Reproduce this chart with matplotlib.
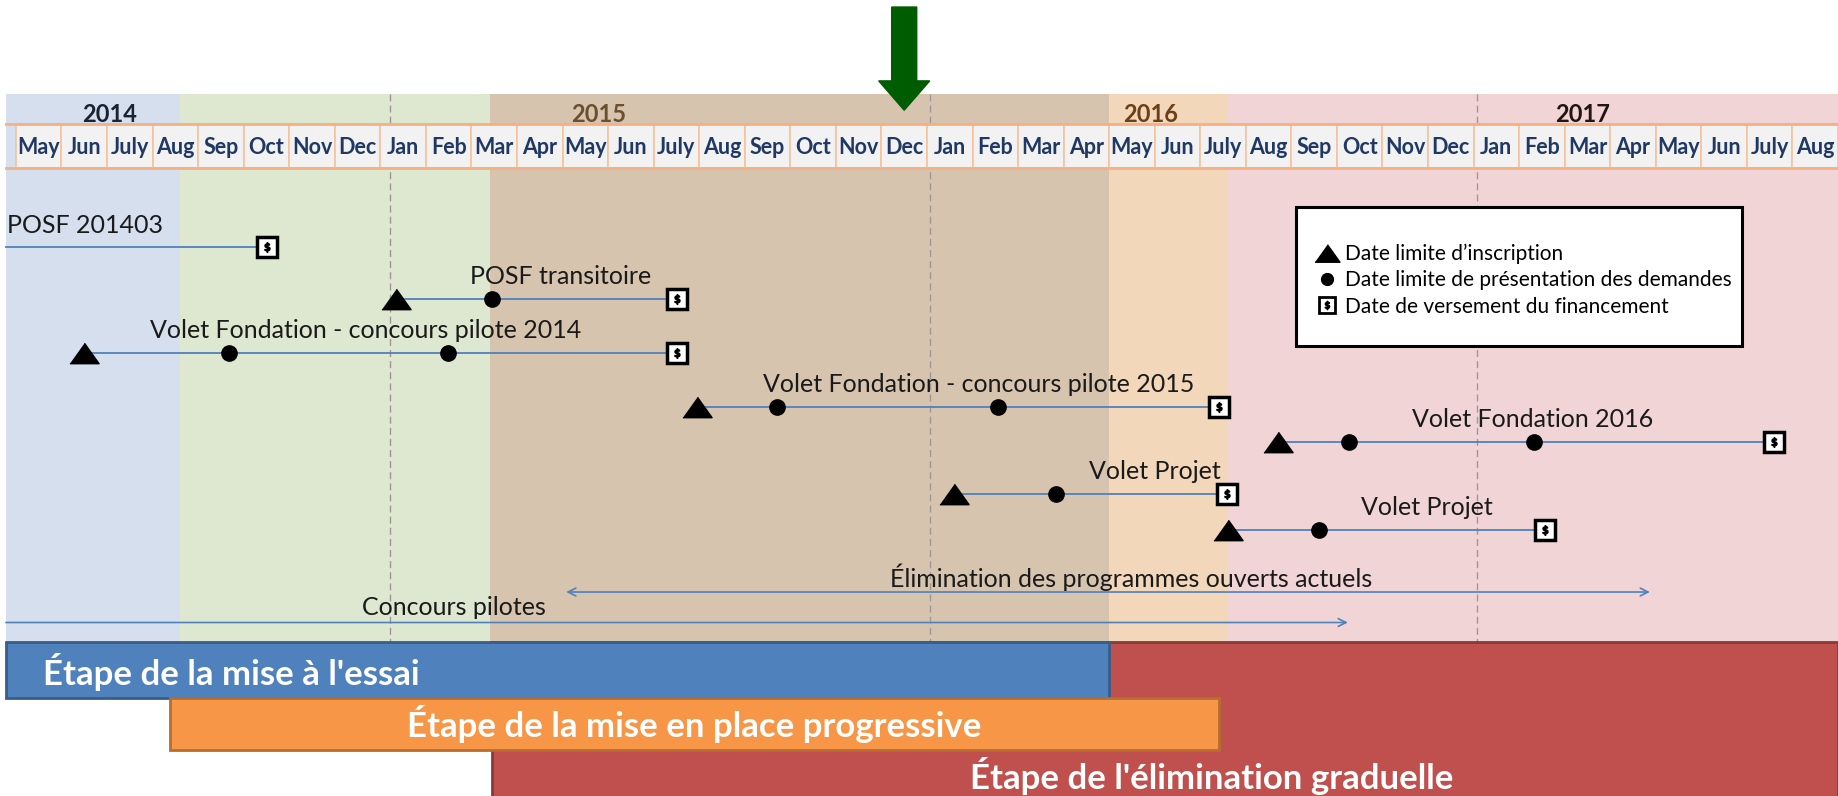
import matplotlib
matplotlib.use('Agg')
import matplotlib.pyplot as plt
from matplotlib.patches import FancyArrow, Rectangle
from matplotlib.lines import Line2D
from matplotlib.legend_handler import HandlerTuple


# x unit = months counted from the start of May 2014
months = ['May', 'Jun', 'July', 'Aug', 'Sep', 'Oct', 'Nov', 'Dec',
          'Jan', 'Feb', 'Mar', 'Apr', 'May', 'Jun', 'July', 'Aug',
          'Sep', 'Oct', 'Nov', 'Dec',
          'Jan', 'Feb', 'Mar', 'Apr', 'May', 'Jun', 'July', 'Aug',
          'Sep', 'Oct', 'Nov', 'Dec',
          'Jan', 'Feb', 'Mar', 'Apr', 'May', 'Jun', 'July', 'Aug']
years = ['2014', '2015', '2016', '2017']
year_pos = [2.05, 12.8, 24.9, 34.4]
year_colors = ['#1b2233', '#6b4f2e', '#6b3f18', '#201510']
year_lines = [8.22, 20.07, 32.07]
arrow_month = 19.5  # Dec 2015

# programs: inscription (triangle), submissions (dots), payment ($)
prog_names = ['POSF 201403', 'POSF transitoire',
              'Volet Fondation - concours pilote 2014',
              'Volet Fondation - concours pilote 2015',
              'Volet Fondation 2016', 'Volet Projet', 'Volet Projet']
prog_start = [-0.22, 8.35, 1.5, 14.96, 27.7, 20.6, 26.6]
inscription = [None, 8.35, 1.5, 14.96, 27.7, 20.6, 26.6]
submission = [[], [10.45], [4.67, 9.48], [16.7, 21.57], [29.26, 33.33],
              [22.83], [28.6]]
payment = [5.52, 14.52, 14.52, 26.41, 38.6, 26.59, 33.56]
prog_label_x = [1.52, 11.95, 7.68, 21.13, 33.3, 25.0, 30.98]

span_names = ['Élimination des programmes ouverts actuels', 'Concours pilotes']
span_start = [12.08, -0.22]
span_end = [35.87, 29.24]
span_label_x = [24.48, 9.62]
span_style = ['<->', '->']

stage_names = ["Étape de la mise à l'essai",
               'Étape de la mise en place progressive',
               "Étape de l'élimination graduelle"]
stage_start = [-0.22, 3.38, 10.45]
stage_end = [24.0, 26.4, 40.0]
stage_colors = ['#4f81bd', '#f79646', '#c0504d']
stage_edges = ['#385d8a', '#b66d31', '#8c3836']

bg_edges = [-0.22, 3.6, 10.4, 24.0, 26.6, 40.0]
bg_colors = ['#d5dfee', '#dee7d0', '#d7c4af', '#f2d7ba', '#f1d5d6']

# layout (vertical positions in picture units, top = 0)
TOP, BOTTOM = 0, 679
BG_TOP, BG_BOT = 80, 548
MONTH_TOP, MONTH_BOT = 106, 143
prog_y = [211, 255, 301, 347, 377, 421, 452]
span_y = [505, 531]
stage_rows = [(548, 595), (595, 640), (548, 700)]

body = ['Lato', 'DejaVu Sans']
line_col = '#4f81bd'
tri = [(-1, -0.7), (1, -0.7), (0, 0.7)]

fig = plt.figure(figsize=(18.38, 7.96), dpi=100)
ax = fig.add_axes([0, 0, 1, 1])
ax.set_xlim(-0.35, 40.0)
ax.set_ylim(BOTTOM, TOP)
ax.axis('off')

# background bands
for i, c in enumerate(bg_colors):
    ax.bar(bg_edges[i], BG_BOT - BG_TOP, width=bg_edges[i + 1] - bg_edges[i],
           bottom=BG_TOP, align='edge', color=c, zorder=0)

# year boundaries
for x in year_lines:
    ax.plot([x, x], [BG_TOP, BG_BOT], color='#a09696', lw=1, ls=(0, (5, 3)),
            zorder=1)

# month header
xs = list(range(len(months)))
ax.bar(xs, MONTH_BOT - MONTH_TOP, width=1, bottom=MONTH_TOP, align='edge',
       color='#f2f2f2', edgecolor='#f6c29c', lw=1.2, zorder=2)
ax.plot([bg_edges[0], 40], [MONTH_TOP, MONTH_TOP], color='#f4b183', lw=2, zorder=2)
ax.plot([bg_edges[0], 40], [MONTH_BOT, MONTH_BOT], color='#f4b183', lw=2, zorder=2)
for i, m in enumerate(months):
    ax.text(i + 0.5, (MONTH_TOP + MONTH_BOT) / 2 + 1, m, ha='center', va='center',
            family=body, fontweight='bold', fontsize=15.5, color='#1f3864',
            zorder=3)
for y, x, c in zip(years, year_pos, year_colors):
    ax.text(x, 98, y, ha='center', va='center', family=body, fontweight='bold',
            fontsize=17, color=c, zorder=3)

# green arrow
ax.add_patch(FancyArrow(arrow_month, 6, 0, 88, width=0.55, head_width=1.12,
                        head_length=25, length_includes_head=True,
                        color='#005c00', zorder=3))

# programs
for i, name in enumerate(prog_names):
    y = prog_y[i]
    ax.plot([prog_start[i], payment[i]], [y, y], color=line_col, lw=1.3, zorder=3)
    if inscription[i] is not None:
        ax.plot(inscription[i], y, ls='none', marker=tri, ms=21, color='black',
                zorder=4)
    for s in submission[i]:
        ax.plot(s, y, ls='none', marker='o', ms=11, color='black', zorder=4)
    ax.plot(payment[i], y, ls='none', marker='s', ms=14, mfc='white', mec='black',
            mew=2.5, zorder=4)
    ax.plot(payment[i], y, ls='none', marker=r'$\$$', ms=7, color='black', zorder=5)
    ax.text(prog_label_x[i], y - 19, name, ha='center', va='center',
            family=body, fontsize=18, color='#1a1a1a', zorder=5)

for i, name in enumerate(span_names):
    y = span_y[i]
    ax.annotate('', xy=(span_end[i], y), xytext=(span_start[i], y),
                arrowprops=dict(arrowstyle=span_style[i], color=line_col, lw=1.2,
                                shrinkA=0, shrinkB=0, mutation_scale=14),
                zorder=3)
    ax.text(span_label_x[i], y - 13, name, ha='center', va='center',
            family=body, fontsize=18, color='#1a1a1a', zorder=5)

# legend box
ax.add_patch(Rectangle((28.1, 177), 9.8, 118, facecolor='white',
                       edgecolor='black', lw=2.2, zorder=5))
h_tri = Line2D([], [], ls='none', marker=tri, ms=18, color='black')
h_dot = Line2D([], [], ls='none', marker='o', ms=8.5, color='black')
h_sq = Line2D([], [], ls='none', marker='s', ms=12, mfc='white', mec='black', mew=2)
h_dl = Line2D([], [], ls='none', marker=r'$\$$', ms=6, color='black')
leg = ax.legend([h_tri, h_dot, (h_sq, h_dl)],
                ['Date limite d\u2019inscription',
                 'Date limite de présentation des demandes',
                 'Date de versement du financement'],
                handler_map={tuple: HandlerTuple(ndivide=1)},
                loc='upper left', bbox_to_anchor=(28.3, 199),
                bbox_transform=ax.transData, frameon=False,
                prop={'family': body, 'size': 15}, handlelength=1.1,
                handletextpad=0.3, labelspacing=0.3, borderpad=0)
leg.set_zorder(6)

# stage bars (red first, it sits underneath)
for i in [2, 0, 1]:
    top, bot = stage_rows[i]
    ax.bar(stage_start[i], bot - top, width=stage_end[i] - stage_start[i],
           bottom=top, align='edge', color=stage_colors[i],
           edgecolor=stage_edges[i], lw=2, zorder=7 + (i != 2))
ax.text(0.6, 573, stage_names[0], ha='left', va='center', family=body,
        fontweight='bold', fontsize=25, color='white', zorder=9)
ax.text(14.9, 618, stage_names[1], ha='center', va='center', family=body,
        fontweight='bold', fontsize=25, color='white', zorder=9)
ax.text(26.25, 662, stage_names[2], ha='center', va='center', family=body,
        fontweight='bold', fontsize=25, color='white', zorder=9)

fig.savefig('out.png', dpi=100)
